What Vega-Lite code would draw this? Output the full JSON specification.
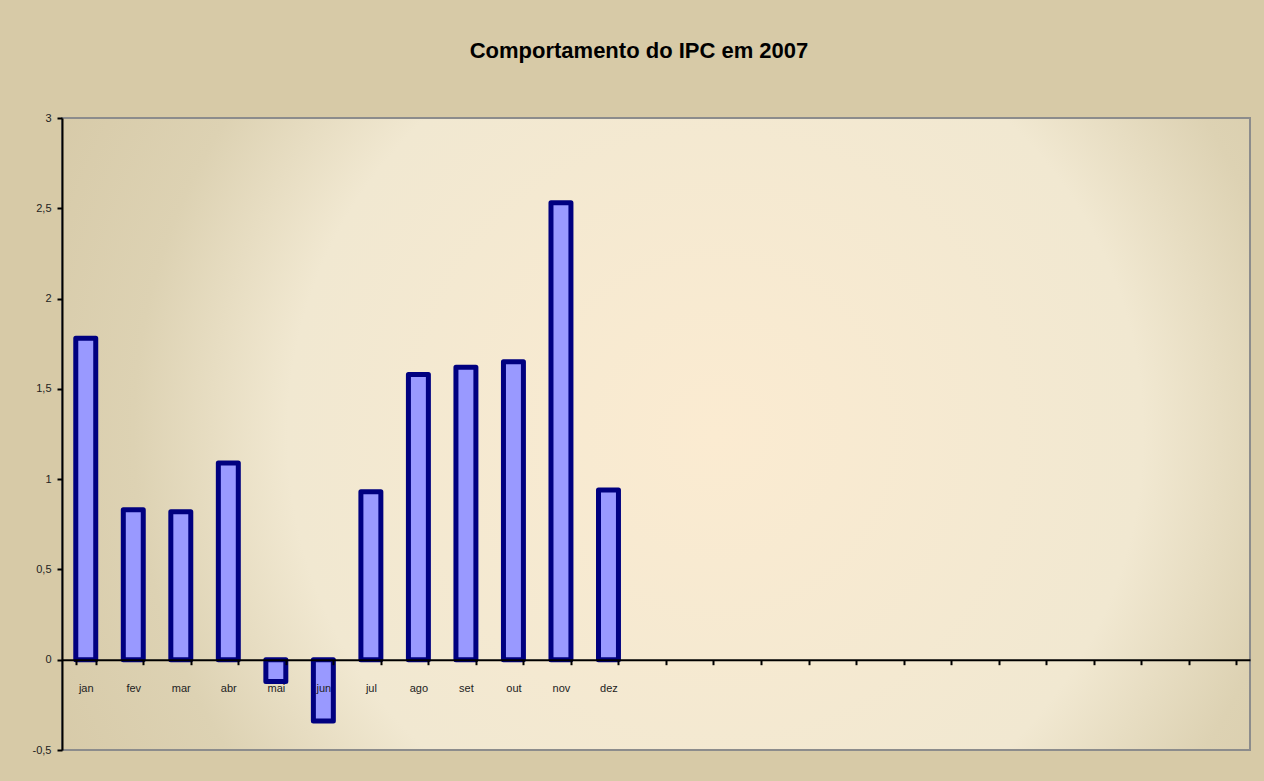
{
  "$schema": "https://vega.github.io/schema/vega-lite/v6.json",
  "width": 1188,
  "height": 632,
  "autosize": {"type": "none"},
  "padding": {"left": 62, "top": 118, "right": 14, "bottom": 31},
  "background": "#D7CAA7",
  "title": {
    "text": "Comportamento do IPC em 2007",
    "fontSize": 22,
    "fontWeight": "bold",
    "font": "Liberation Sans",
    "color": "#000000",
    "anchor": "middle",
    "frame": "group",
    "baseline": "alphabetic",
    "dx": -17,
    "offset": 32
  },
  "config": {
    "view": {
      "stroke": "#8C8C8C",
      "strokeWidth": 2,
      "fill": {
        "gradient": "radial",
        "x1": 0.55, "y1": 0.5, "r1": 0,
        "x2": 0.55, "y2": 0.5, "r2": 0.72,
        "stops": [
          {"offset": 0, "color": "#FBEBD1"},
          {"offset": 0.5, "color": "#F1E8D1"},
          {"offset": 0.68, "color": "#DDD2B3"},
          {"offset": 1, "color": "#D2C4A0"}
        ]
      }
    },
    "axis": {
      "labelFont": "Liberation Sans",
      "labelFontSize": 11,
      "labelColor": "#222222",
      "domainColor": "#000000",
      "domainWidth": 2,
      "tickColor": "#000000",
      "tickWidth": 2,
      "tickSize": 5,
      "grid": false,
      "title": null
    }
  },
  "data": {
    "values": [
      {"mes": "jan", "ipc": 1.78},
      {"mes": "fev", "ipc": 0.83},
      {"mes": "mar", "ipc": 0.82},
      {"mes": "abr", "ipc": 1.09},
      {"mes": "mai", "ipc": -0.12},
      {"mes": "jun", "ipc": -0.34},
      {"mes": "jul", "ipc": 0.93},
      {"mes": "ago", "ipc": 1.58},
      {"mes": "set", "ipc": 1.62},
      {"mes": "out", "ipc": 1.65},
      {"mes": "nov", "ipc": 2.53},
      {"mes": "dez", "ipc": 0.94}
    ]
  },
  "mark": {
    "type": "bar",
    "fill": "#9999FF",
    "stroke": "#000080",
    "strokeWidth": 5,
    "strokeJoin": "round"
  },
  "encoding": {
    "x": {
      "field": "mes",
      "type": "nominal",
      "scale": {
        "domain": ["jan","fev","mar","abr","mai","jun","jul","ago","set","out","nov","dez","_13","_14","_15","_16","_17","_18","_19","_20","_21","_22","_23","_24","_25"],
        "paddingInner": 0.58,
        "paddingOuter": 0.29
      },
      "axis": {
        "orient": "bottom",
        "offset": -90.3,
        "labelAngle": 0,
        "labelPadding": 18,
        "tickBand": "extent",
        "zindex": 1,
        "labelExpr": "substring(datum.value, 0, 1) == '_' ? '' : datum.value"
      }
    },
    "y": {
      "field": "ipc",
      "type": "quantitative",
      "scale": {"domain": [-0.5, 3], "nice": false, "zero": false},
      "axis": {
        "values": [-0.5, 0, 0.5, 1, 1.5, 2, 2.5, 3],
        "labelPadding": 6,
        "zindex": 1,
        "labelExpr": "replace(toString(datum.value), '.', ',')"
      }
    }
  }
}
